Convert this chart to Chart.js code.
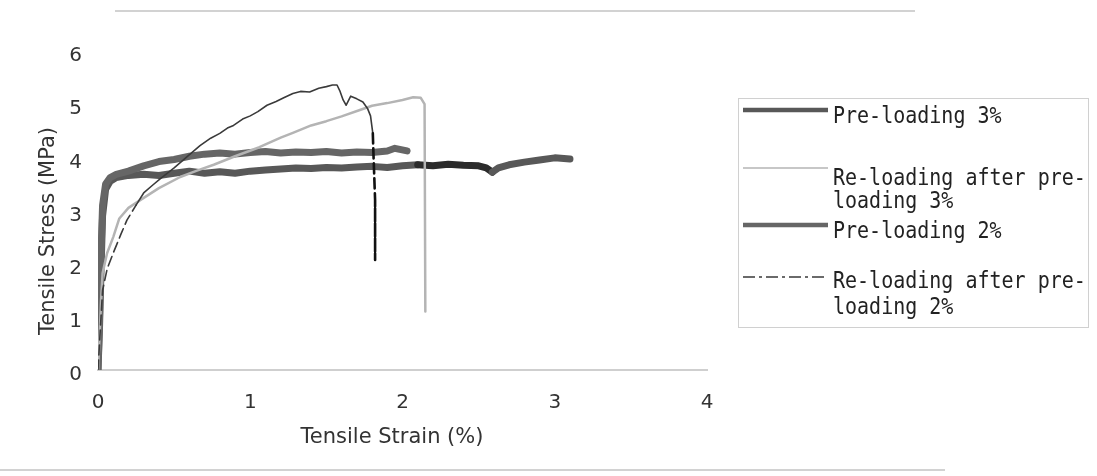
<!DOCTYPE html>
<html><head><meta charset="utf-8">
<script src="https://cdn.jsdelivr.net/npm/chart.js@4.4.1/dist/chart.umd.min.js"></script>
<style>html,body{margin:0;padding:0;background:#fff;}#wrap{position:relative;width:1097px;height:476px;}</style>
</head><body><div id="wrap"><canvas id="c" width="1097" height="476"></canvas></div>
<script>
// ---- data ----
const xTicks = [0, 1, 2, 3, 4];
const yTicks = [0, 1, 2, 3, 4, 5, 6];
const xTitle = 'Tensile Strain (%)';
const yTitle = 'Tensile Stress (MPa)';
const seriesNames = [
  ['Pre-loading 3%'],
  ['Re-loading after pre-', 'loading 3%'],
  ['Pre-loading 2%'],
  ['Re-loading after pre-', 'loading 2%']
];

const pre3Strain = [0,0.01,0.02,0.03,0.05,0.08,0.12,0.2,0.3,0.4,0.5,0.6,0.7,0.8,0.9,1.0,1.1,1.2,1.3,1.4,1.5,1.6,1.7,1.8,1.9,2.0,2.1,2.2,2.3,2.4,2.5,2.55,2.59,2.63,2.7,2.8,2.9,3.0,3.1];
const pre3Stress = [0,0.8,1.9,2.9,3.4,3.55,3.62,3.66,3.68,3.66,3.70,3.74,3.70,3.73,3.70,3.74,3.76,3.78,3.80,3.79,3.81,3.80,3.82,3.83,3.81,3.84,3.86,3.84,3.87,3.85,3.84,3.80,3.72,3.80,3.86,3.91,3.95,3.99,3.97];

const re3Strain = [0,0.01,0.02,0.03,0.06,0.1,0.14,0.2,0.28,0.4,0.54,0.65,0.76,0.9,1.06,1.2,1.28,1.4,1.5,1.6,1.72,1.8,1.9,2.0,2.07,2.12,2.145,2.15];
const re3Stress = [0,0.6,1.3,1.82,2.2,2.5,2.85,3.05,3.2,3.42,3.63,3.75,3.86,4.02,4.19,4.37,4.46,4.6,4.68,4.77,4.89,4.97,5.02,5.08,5.13,5.12,5.0,1.1];

const pre2Strain = [0,0.01,0.02,0.03,0.05,0.08,0.12,0.2,0.3,0.4,0.5,0.6,0.7,0.8,0.9,1.0,1.1,1.2,1.3,1.4,1.5,1.6,1.7,1.8,1.9,1.95,2.03];
const pre2Stress = [0,1.0,2.2,3.1,3.5,3.62,3.68,3.74,3.84,3.92,3.96,4.02,4.06,4.08,4.06,4.09,4.11,4.08,4.10,4.09,4.11,4.08,4.10,4.09,4.12,4.17,4.12];

const re2Strain = [0,0.01,0.02,0.03,0.06,0.1,0.15,0.19,0.25,0.3,0.36,0.41,0.5,0.58,0.67,0.74,0.8,0.85,0.89,0.95,1.0,1.05,1.11,1.17,1.22,1.28,1.33,1.39,1.45,1.5,1.54,1.57,1.59,1.61,1.63,1.66,1.7,1.74,1.77,1.79,1.805,1.81,1.82,1.82];
const re2Stress = [0,0.5,1.0,1.5,1.9,2.2,2.55,2.82,3.1,3.33,3.48,3.6,3.8,4.0,4.22,4.36,4.45,4.55,4.6,4.72,4.78,4.86,4.98,5.05,5.12,5.2,5.24,5.23,5.3,5.33,5.36,5.36,5.24,5.08,4.98,5.15,5.1,5.04,4.92,4.78,4.45,4.0,3.2,2.07];

// ---- build ----
const pts = (xs, ys) => xs.map((x, i) => ({x, y: ys[i]}));
const FONT = '"DejaVu Sans", Verdana, sans-serif';

const datasets = [
  { label: seriesNames[0].join(' '), data: pts(pre3Strain, pre3Stress), borderColor: '#585858', borderWidth: 7, order: 3,
    segment: { borderColor: c => (c.p0.parsed.x >= 2.08 && c.p1.parsed.x <= 2.62) ? '#2b2b2b' : undefined } },
  { label: seriesNames[1].join(' '), data: pts(re3Strain, re3Stress), borderColor: '#b4b4b4', borderWidth: 2.5, order: 1 },
  { label: seriesNames[2].join(' '), data: pts(pre2Strain, pre2Stress), borderColor: '#666666', borderWidth: 7, order: 2 },
  { label: seriesNames[3].join(' '), data: pts(re2Strain, re2Stress), borderColor: '#3a3a3a', borderWidth: 1.6, order: 0,
    legendDash: [12, 4, 3, 4],
    segment: {
      borderDash: c => (c.p0.parsed.y < 2.9 || c.p0.parsed.x >= 1.805) ? [10, 5] : undefined,
      borderWidth: c => (c.p0.parsed.x >= 1.805) ? 2.6 : undefined,
      borderColor: c => (c.p0.parsed.x >= 1.805) ? '#111' : undefined
    } }
];
datasets.forEach(d => { d.pointRadius = 0; d.fill = false; d.tension = 0; d.borderCapStyle = 'round'; d.borderJoinStyle = 'round'; });

const legendRows = [
  { sampleY: 110, textY: [117] },
  { sampleY: 168, textY: [179, 202] },
  { sampleY: 225, textY: [232] },
  { sampleY: 277, textY: [282, 308] }
];

const decorPlugin = {
  id: 'decor',
  afterDraw(chart) {
    const ctx = chart.ctx;
    ctx.save();
    // scan rules at top and bottom
    ctx.strokeStyle = '#d2d2d2'; ctx.lineWidth = 2;
    ctx.beginPath(); ctx.moveTo(115, 11); ctx.lineTo(915, 11); ctx.stroke();
    ctx.beginPath(); ctx.moveTo(0, 470); ctx.lineTo(945, 470); ctx.stroke();
    // axis titles
    ctx.fillStyle = '#333'; ctx.font = '21px ' + FONT;
    ctx.textAlign = 'center'; ctx.textBaseline = 'middle';
    ctx.fillText(xTitle, 392, 438);
    ctx.save(); ctx.translate(49, 231); ctx.rotate(-Math.PI / 2); ctx.fillText(yTitle, 0, 0); ctx.restore();
    // legend
    ctx.strokeStyle = '#d0d0d0'; ctx.lineWidth = 1;
    ctx.strokeRect(738.5, 98.5, 350, 229);
    chart.data.datasets.forEach((ds, i) => {
      const r = legendRows[i];
      ctx.beginPath();
      ctx.strokeStyle = ds.borderColor;
      ctx.lineWidth = ds.borderWidth > 3 ? 4.5 : 1.6;
      ctx.setLineDash(ds.legendDash || []);
      ctx.moveTo(743, r.sampleY); ctx.lineTo(828, r.sampleY); ctx.stroke();
      ctx.setLineDash([]);
      ctx.fillStyle = '#222'; ctx.font = '20px "DejaVu Sans Mono", monospace';
      ctx.textAlign = 'left'; ctx.textBaseline = 'middle';
      seriesNames[i].forEach((t, k) => {
        ctx.save(); ctx.translate(833, r.textY[k]); ctx.scale(1, 1.15);
        ctx.fillText(t, 0, 0); ctx.restore();
      });
    });
    ctx.restore();
  }
};

new Chart(document.getElementById('c'), {
  type: 'line',
  data: { datasets },
  options: {
    responsive: false, animation: false, devicePixelRatio: 1,
    layout: { padding: { left: 0, right: 390, top: 51, bottom: 0 } },
    plugins: { legend: { display: false }, tooltip: { enabled: false } },
    scales: {
      x: { type: 'linear', min: xTicks[0], max: xTicks[xTicks.length - 1],
        afterBuildTicks: s => { s.ticks = xTicks.map(v => ({value: v})); },
        afterFit: s => { s.height = 106; },
        grid: { display: false, drawTicks: false },
        border: { display: true, color: '#cfcfcf', width: 2 },
        ticks: { font: { family: FONT, size: 20 }, color: '#333', padding: 21, maxRotation: 0 } },
      y: { type: 'linear', min: yTicks[0], max: yTicks[yTicks.length - 1],
        afterBuildTicks: s => { s.ticks = yTicks.map(v => ({value: v})); },
        afterFit: s => { s.width = 98; },
        grid: { display: false, drawTicks: false },
        border: { display: false },
        ticks: { font: { family: FONT, size: 20 }, color: '#333', padding: 16, labelOffset: 5 } }
    }
  },
  plugins: [decorPlugin]
});
</script></body></html>
